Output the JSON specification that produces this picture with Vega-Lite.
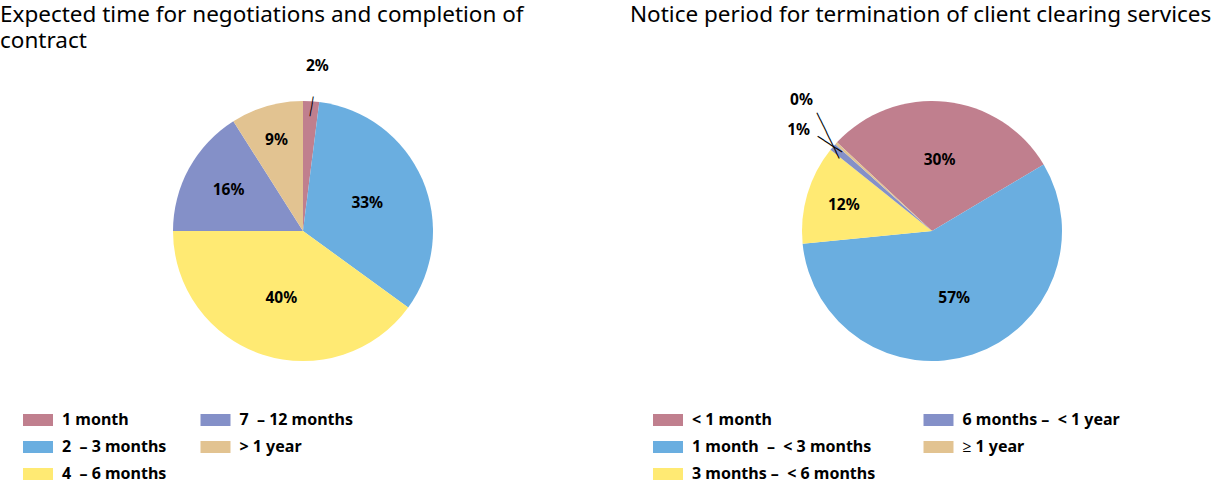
{
  "$schema": "https://vega.github.io/schema/vega-lite/v6.json",
  "padding": {"top": 3, "left": 0, "right": 0, "bottom": 0},
  "background": "white",
  "bounds": "flush",
  "spacing": 46,
  "config": {
    "view": {"stroke": null},
    "font": "Noto Sans",
    "title": {"fontSize": 22.5, "fontWeight": "normal", "anchor": "start", "color": "#000000", "font": "Noto Sans", "lineHeight": 26},
    "legend": {"padding": 0, "symbolType": "M-1,-0.4H1V0.4H-1Z", "symbolSize": 900, "symbolStrokeWidth": 0, "symbolOpacity": 1, "labelFontSize": 16, "labelFontWeight": "bold", "labelFont": "Noto Sans", "labelColor": "#000000", "rowPadding": 4, "labelOffset": 9, "labelLimit": 400}
  },
  "datasets": {
    "left": [
      {"k": 1, "cat": "1 month", "v": 2, "lbl": "2%"},
      {"k": 2, "cat": "2\u00a0 – 3 months", "v": 33, "lbl": "33%"},
      {"k": 3, "cat": "4\u00a0 – 6 months", "v": 40, "lbl": "40%"},
      {"k": 4, "cat": "7\u00a0 – 12 months", "v": 16, "lbl": "16%"},
      {"k": 5, "cat": "\u00a0> 1 year", "v": 9, "lbl": "9%"}
    ],
    "right": [
      {"k": 1, "cat": "< 1 month", "v": 29.5, "lbl": "30%"},
      {"k": 2, "cat": "1 month\u00a0 –\u00a0 < 3 months", "v": 57, "lbl": "57%"},
      {"k": 3, "cat": "3 months –\u00a0 < 6 months", "v": 12.3, "lbl": "12%"},
      {"k": 4, "cat": "6 months –\u00a0 < 1 year", "v": 0.9, "lbl": "1%"},
      {"k": 5, "cat": "≥ 1 year", "v": 0.3, "lbl": "0%"}
    ]
  },
  "resolve": {"scale": {"color": "independent", "theta": "independent"}, "legend": {"color": "independent"}},
  "hconcat": [
    {
      "width": 606,
      "height": 300,
      "title": {"text": ["Expected time for negotiations and completion of", "contract"], "offset": 7},
      "data": {"name": "left"},
      "encoding": {
        "theta": {"field": "v", "type": "quantitative", "stack": true, "scale": {"range": [0, 6.2832]}},
        "order": {"field": "k", "type": "quantitative"}
      },
      "layer": [
        {
          "mark": {"type": "arc", "outerRadius": 130},
          "encoding": {
            "color": {
              "field": "cat", "type": "nominal",
              "scale": {"domain": ["1 month", "2\u00a0 – 3 months", "4\u00a0 – 6 months", "7\u00a0 – 12 months", "\u00a0> 1 year"], "range": ["#C07F8E", "#6AAEE0", "#FFEA73", "#8490C8", "#E2C391"]},
              "legend": {"orient": "none", "legendX": 23, "legendY": 324, "columns": 2, "title": null, "columnPadding": 33.5}
            }
          }
        },
        {
          "mark": {"type": "text", "radius": 70, "fontSize": 15.5, "fontWeight": "bold", "color": "#000000"},
          "encoding": {"detail": {"field": "cat"}, "text": {"condition": {"test": "indexof(['33%','40%'], datum.lbl) >= 0", "field": "lbl", "type": "nominal"}, "value": ""}}
        },
        {
          "mark": {"type": "text", "radius": 85, "fontSize": 15.5, "fontWeight": "bold", "color": "#000000"},
          "encoding": {"detail": {"field": "cat"}, "text": {"condition": {"test": "datum.lbl == '16%'", "field": "lbl", "type": "nominal"}, "value": ""}}
        },
        {
          "mark": {"type": "text", "radius": 95, "fontSize": 15.5, "fontWeight": "bold", "color": "#000000"},
          "encoding": {"detail": {"field": "cat"}, "text": {"condition": {"test": "datum.lbl == '9%'", "field": "lbl", "type": "nominal"}, "value": ""}}
        },
        {
          "mark": {"type": "text", "radius": 165, "dx": 4, "fontSize": 15.5, "fontWeight": "bold", "color": "#000000"},
          "encoding": {"detail": {"field": "cat"}, "text": {"condition": {"test": "datum.lbl == '2%'", "field": "lbl", "type": "nominal"}, "value": ""}}
        },
        {
          "mark": {"type": "text", "radius": 125, "angle": 99.5, "font": "DejaVu Sans Mono", "fontSize": 11, "align": "center", "baseline": "middle", "color": "#000000"},
          "encoding": {"detail": {"field": "cat"}, "text": {"condition": {"test": "datum.lbl == '2%'", "value": "───"}, "value": ""}}
        }
      ]
    },
    {
      "width": 560,
      "height": 300,
      "title": {"text": "Notice period for termination of client clearing services", "offset": 8, "dx": -22},
      "data": {"name": "right"},
      "encoding": {
        "theta": {"field": "v", "type": "quantitative", "stack": true, "scale": {"range": [-0.8203, 5.4629]}},
        "order": {"field": "k", "type": "quantitative"}
      },
      "layer": [
        {
          "mark": {"type": "arc", "outerRadius": 130},
          "encoding": {
            "color": {
              "field": "cat", "type": "nominal",
              "scale": {"domain": ["< 1 month", "1 month\u00a0 –\u00a0 < 3 months", "3 months –\u00a0 < 6 months", "6 months –\u00a0 < 1 year", "≥ 1 year"], "range": ["#C07F8E", "#6AAEE0", "#FFEA73", "#8490C8", "#E2C391"]},
              "legend": {"orient": "none", "legendX": 1, "legendY": 324, "columns": 2, "title": null, "columnPadding": 47.5}
            }
          }
        },
        {
          "mark": {"type": "text", "radius": 71, "fontSize": 15.5, "fontWeight": "bold", "color": "#000000"},
          "encoding": {"detail": {"field": "cat"}, "text": {"condition": {"test": "indexof(['30%','57%'], datum.lbl) >= 0", "field": "lbl", "type": "nominal"}, "value": ""}}
        },
        {
          "mark": {"type": "text", "radius": 92, "fontSize": 15.5, "fontWeight": "bold", "color": "#000000"},
          "encoding": {"detail": {"field": "cat"}, "text": {"condition": {"test": "datum.lbl == '12%'", "field": "lbl", "type": "nominal"}, "value": ""}}
        },
        {
          "mark": {"type": "text", "radius": 185, "dx": 6, "dy": -6, "fontSize": 15.5, "fontWeight": "bold", "color": "#000000"},
          "encoding": {"detail": {"field": "cat"}, "text": {"condition": {"test": "datum.lbl == '0%'", "field": "lbl", "type": "nominal"}, "value": ""}}
        },
        {
          "mark": {"type": "text", "radius": 167, "dx": -6, "dy": 7, "fontSize": 15.5, "fontWeight": "bold", "color": "#000000"},
          "encoding": {"detail": {"field": "cat"}, "text": {"condition": {"test": "datum.lbl == '1%'", "field": "lbl", "type": "nominal"}, "value": ""}}
        },
        {
          "mark": {"type": "text", "radius": 141, "angle": 64, "font": "DejaVu Sans Mono", "fontSize": 12, "align": "center", "baseline": "middle", "color": "#000000"},
          "encoding": {"detail": {"field": "cat"}, "text": {"condition": {"test": "datum.lbl == '0%'", "value": "───────"}, "value": ""}}
        },
        {
          "mark": {"type": "text", "radius": 134, "angle": 33, "font": "DejaVu Sans Mono", "fontSize": 12, "align": "center", "baseline": "middle", "color": "#000000"},
          "encoding": {"detail": {"field": "cat"}, "text": {"condition": {"test": "datum.lbl == '1%'", "value": "────"}, "value": ""}}
        }
      ]
    }
  ]
}
